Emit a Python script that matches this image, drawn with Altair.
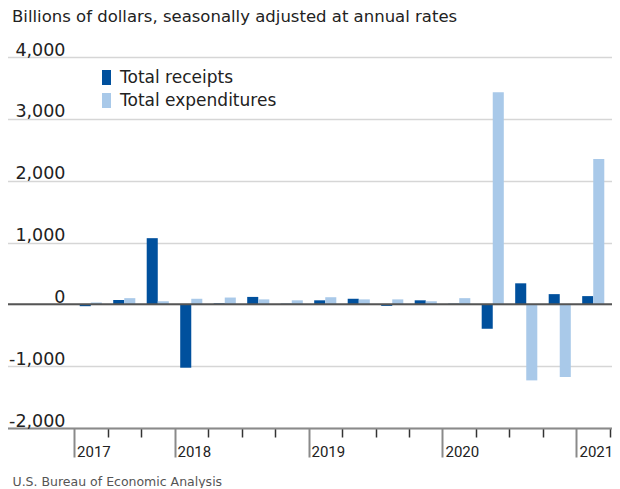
import altair as alt
import pandas as pd

# ---- data ----
quarters = ["2017 Q2", "2017 Q3", "2017 Q4", "2018 Q1", "2018 Q2", "2018 Q3", "2018 Q4",
            "2019 Q1", "2019 Q2", "2019 Q3", "2019 Q4", "2020 Q1", "2020 Q2", "2020 Q3",
            "2020 Q4", "2021 Q1"]
receipts = [-30, 70, 1070, -1025, 15, 120, 10, 65, 90, -25, 65, 10, -395, 340, 165, 133]
expenditures = [30, 100, 50, 90, 110, 80, 65, 115, 80, 80, 50, 100, 3430, -1230, -1175, 2350]
series_names = ["Total receipts", "Total expenditures"]
series_colors = ["#00509d", "#a9c9e9"]
year_tick_positions = [0, 3, 7, 11, 15]
year_labels = ["2017", "2018", "2019", "2020", "2021"]
y_ticks = [-2000, -1000, 0, 1000, 2000, 3000, 4000]
zero_line = [0]

rows = []
for i, q in enumerate(quarters):
    rows.append({"idx": i, "quarter": q, "series": series_names[0], "k": 0, "value": receipts[i]})
    rows.append({"idx": i, "quarter": q, "series": series_names[1], "k": 1, "value": expenditures[i]})
df = pd.DataFrame(rows)

FONT = "DejaVu Sans"
YEAR_FONT = "Roboto"
x_scale = alt.Scale(domain=[-2.12, 16.06], nice=False, zero=False)
y_scale = alt.Scale(domain=[-2000, 4000], nice=False, zero=False)

major_test = "indexof([" + ",".join(str(v) for v in year_tick_positions) + "], datum.value) >= 0"
label_expr = " : ".join(
    f"datum.value === {p} ? '{l}'" for p, l in zip(year_tick_positions, year_labels)
) + " : ''"

x_axis = alt.Axis(
    values=list(range(0, len(quarters) + 1)),
    grid=False,
    domain=True, domainColor="#8a8a8a", domainWidth=2,
    ticks=True,
    tickSize={"condition": {"test": major_test, "value": 29}, "value": 9},
    tickColor={"condition": {"test": major_test, "value": "#8a8a8a"}, "value": "#333333"},
    tickWidth={"condition": {"test": major_test, "value": 2}, "value": 1.5},
    labelExpr=label_expr,
    labelAlign="left", labelBaseline="top", labelOffset=2.5, labelPadding=-13,
    labelFont=YEAR_FONT, labelFontSize=15, labelColor="#222222",
    labelOverlap=False, labelFlush=False, labelBound=False,
    title="U.S. Bureau of Economic Analysis",
    titleX=9, titleY=57, titleAlign="left", titleBaseline="alphabetic",
    titleFont=FONT, titleFontSize=12.5, titleFontWeight="normal", titleColor="#555555",
)

y_axis = alt.Axis(
    values=y_ticks,
    grid=True, gridColor="#d6d6d6", gridWidth=1.5,
    domain=False, ticks=False, tickSize=0,
    labelExpr="replace(format(datum.value, ','), '\u2212', '-')",
    labelAlign="right", labelBaseline="alphabetic", labelPadding=-62, labelOffset=-2,
    labelFont=FONT, labelFontSize=17.5, labelColor="#222222",
    labelOverlap=False, labelFlush=False, labelBound=False,
    title=None,
)

bars = alt.Chart(df).transform_calculate(
    x0="datum.idx + 0.17 + 0.33 * datum.k",
    x1="datum.idx + 0.50 + 0.33 * datum.k",
).mark_bar(cornerRadius=0).encode(
    x=alt.X("x0:Q", scale=x_scale, axis=x_axis),
    x2="x1:Q",
    y=alt.Y("value:Q", scale=y_scale, axis=y_axis),
    y2=alt.datum(0),
    color=alt.Color(
        "series:N",
        scale=alt.Scale(domain=series_names, range=series_colors),
        sort=series_names,
        legend=alt.Legend(
            title=None, orient="none", legendX=95, legendY=12,
            symbolType="M-0.6,-1H0.6V1H-0.6Z", symbolSize=225,
            symbolStrokeWidth=0, symbolOpacity=1,
            labelFont=FONT, labelFontSize=17, labelColor="#222222",
            labelOffset=5, rowPadding=5, padding=0,
        ),
    ),
)

zero_rule = alt.Chart(pd.DataFrame({"y": zero_line})).mark_rule(
    color="#555555", strokeWidth=2
).encode(y=alt.Y("y:Q", scale=y_scale))

chart = alt.layer(bars, zero_rule).properties(
    width=609,
    height=371,
    title=alt.TitleParams(
        "Billions of dollars, seasonally adjusted at annual rates",
        anchor="start", dx=10, offset=16,
        font=FONT, fontSize=16.5, fontWeight="normal", color="#222222",
    ),
    autosize=alt.AutoSizeParams(type="none"),
    padding={"left": -5, "top": 49, "right": 0, "bottom": 60},
).configure_view(stroke=None).configure(background="white")

chart.save("out.html", embed_options={"renderer": "svg", "actions": False})
